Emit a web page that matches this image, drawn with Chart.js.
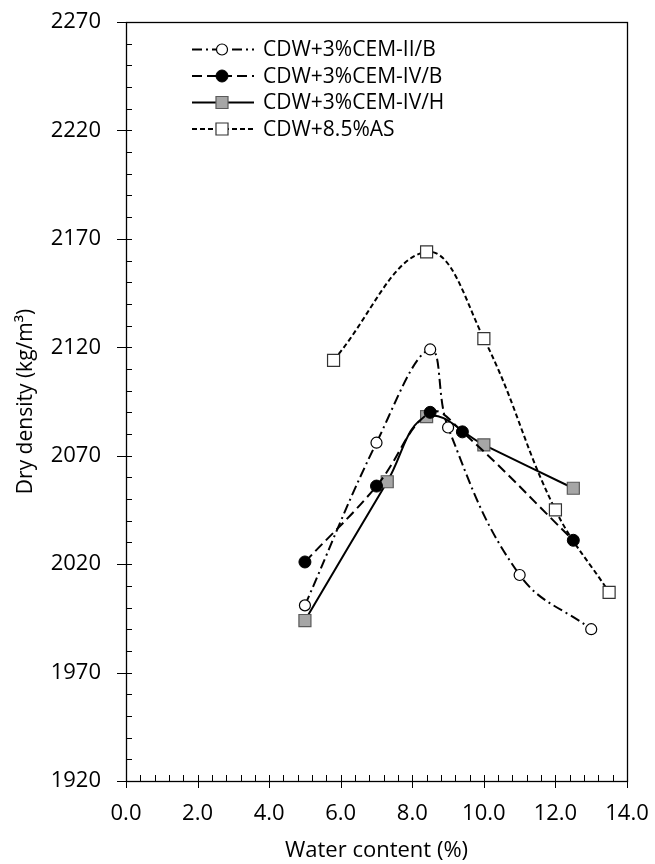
<!DOCTYPE html>
<html>
<head>
<meta charset="utf-8">
<script src="https://cdn.jsdelivr.net/npm/chart.js@4.4.1/dist/chart.umd.min.js"></script>
<style>
    html, body { margin: 0; padding: 0; background: #fff; }
    #wrap { width: 655px; height: 864px; }
</style>
</head>
<body>
<div id="wrap"><canvas id="density-chart" width="655" height="864"></canvas></div>
<script>
// Series names (legend order)
const seriesNames = ['CDW+3%CEM-II/B', 'CDW+3%CEM-IV/B', 'CDW+3%CEM-IV/H', 'CDW+8.5%AS'];

// Water content (%) and dry density (kg/m3)
const cemIIBWater = [5.0, 7.0, 8.5, 9.0, 11.0, 13.0];
const cemIIBDensity = [2001, 2076, 2119, 2083, 2015, 1990];

const cemIVBWater = [5.0, 7.0, 8.5, 9.4, 12.5];
const cemIVBDensity = [2021, 2056, 2090, 2081, 2031];

const cemIVHWater = [5.0, 7.3, 8.4, 10.0, 12.5];
const cemIVHDensity = [1994, 2058, 2088, 2075, 2055];

const asWater = [5.8, 8.4, 10.0, 12.0, 13.5];
const asDensity = [2114, 2164, 2124, 2045, 2007];

// Axis ticks
const xTicks = [0, 2, 4, 6, 8, 10, 12, 14];
const yTicks = [1920, 1970, 2020, 2070, 2120, 2170, 2220, 2270];
const xMinorStep = 0.4;
const yMinorStep = 10;

const FONT = "'Open Sans', 'DejaVu Sans', sans-serif";

function toPoints(xs, ys) {
    return xs.map((x, i) => ({ x: x, y: ys[i] }));
}

const datasets = [
    {
        label: seriesNames[0],
        data: toPoints(cemIIBWater, cemIIBDensity),
        borderDash: [10, 4, 2, 4],
        pointStyle: 'circle',
        pointRadius: 5.5,
        pointBackgroundColor: '#fff',
        pointBorderColor: '#000',
        pointBorderWidth: 1.2
    },
    {
        label: seriesNames[1],
        data: toPoints(cemIVBWater, cemIVBDensity),
        borderDash: [10, 5],
        pointStyle: 'circle',
        pointRadius: 6,
        pointBackgroundColor: '#000',
        pointBorderColor: '#000',
        pointBorderWidth: 1
    },
    {
        label: seriesNames[2],
        data: toPoints(cemIVHWater, cemIVHDensity),
        borderDash: [],
        pointStyle: 'rect',
        pointRadius: 8.5,
        pointBackgroundColor: '#a6a6a6',
        pointBorderColor: '#5a5a5a',
        pointBorderWidth: 1.2
    },
    {
        label: seriesNames[3],
        data: toPoints(asWater, asDensity),
        borderDash: [5, 3],
        pointStyle: 'rect',
        pointRadius: 8.5,
        pointBackgroundColor: '#fff',
        pointBorderColor: '#333',
        pointBorderWidth: 1.2
    }
];
datasets.forEach(ds => {
    ds.showLine = true;
    ds.tension = 0.4;
    ds.fill = false;
    ds.borderColor = '#000';
    ds.borderWidth = 2;
});

// Box around the plot, Excel style tick marks and the legend inside the plot
const framePlugin = {
    id: 'framePlugin',
    afterDraw(chart) {
        const { ctx, chartArea: a, scales } = chart;
        const xs = scales.x, ys = scales.y;
        ctx.save();
        ctx.strokeStyle = '#000';
        ctx.lineWidth = 1.3;
        ctx.setLineDash([]);
        ctx.strokeRect(Math.round(a.left) + 0.5, Math.round(a.top) + 0.5,
            Math.round(a.right - a.left), Math.round(a.bottom - a.top));

        ctx.lineWidth = 1;
        ctx.beginPath();
        // y ticks: majors cross the axis, minors point inward
        const yCount = Math.round((yTicks[yTicks.length - 1] - yTicks[0]) / yMinorStep);
        for (let i = 0; i <= yCount; i++) {
            const v = yTicks[0] + i * yMinorStep;
            const py = Math.round(ys.getPixelForValue(v)) + 0.5;
            const major = yTicks.includes(v);
            ctx.moveTo(a.left - (major ? 9 : 0), py);
            ctx.lineTo(a.left + 6, py);
        }
        // x ticks
        const xCount = Math.round((xTicks[xTicks.length - 1] - xTicks[0]) / xMinorStep);
        for (let i = 0; i <= xCount; i++) {
            const v = xTicks[0] + i * xMinorStep;
            const px = Math.round(xs.getPixelForValue(v)) + 0.5;
            ctx.moveTo(px, a.bottom);
            ctx.lineTo(px, a.bottom - 6);
        }
        for (let i = 0; i < xTicks.length; i++) {
            const px = Math.round(xs.getPixelForValue(xTicks[i])) + 0.5;
            ctx.moveTo(px, a.bottom + 7);
            ctx.lineTo(px, a.bottom - 6);
        }
        ctx.stroke();

        // legend
        const lx = a.left + 66;
        chart.data.datasets.forEach((ds, i) => {
            const ly = a.top + 27.5 + i * 26.5;
            ctx.strokeStyle = ds.borderColor;
            ctx.lineWidth = ds.borderWidth;
            ctx.setLineDash(ds.borderDash);
            ctx.beginPath();
            ctx.moveTo(lx, ly);
            ctx.lineTo(lx + 62, ly);
            ctx.stroke();
            ctx.setLineDash([]);
            ctx.fillStyle = ds.pointBackgroundColor;
            ctx.strokeStyle = ds.pointBorderColor;
            ctx.lineWidth = ds.pointBorderWidth;
            Chart.helpers.drawPoint(ctx, {
                pointStyle: ds.pointStyle,
                rotation: 0,
                radius: ds.pointRadius,
                borderWidth: ds.pointBorderWidth
            }, lx + 30, ly);
            ctx.fillStyle = '#000';
            ctx.font = '21px ' + FONT;
            ctx.textBaseline = 'middle';
            ctx.textAlign = 'left';
            ctx.fillText(ds.label, lx + 71, ly + 1);
        });
        ctx.restore();
    }
};

// keep the plot box where it is in the figure, whatever the label overhang
function fixX(scale) {
    scale.height = 83;
    scale.paddingLeft = 0;
    scale.paddingRight = 0;
}
function fixY(scale) {
    scale.width = 126;
    scale.paddingTop = 0;
    scale.paddingBottom = 0;
}

const ctx = document.getElementById('density-chart');
new Chart(ctx, {
    type: 'scatter',
    data: { datasets: datasets },
    options: {
        responsive: false,
        animation: false,
        devicePixelRatio: 1,
        layout: { padding: { top: 22, right: 28, left: 0, bottom: 0 } },
        plugins: {
            legend: { display: false },
            tooltip: { enabled: false }
        },
        scales: {
            x: {
                type: 'linear',
                min: xTicks[0],
                max: xTicks[xTicks.length - 1],
                grid: { display: false, drawTicks: false },
                border: { display: false },
                afterFit: fixX,
                afterBuildTicks: scale => { scale.ticks = xTicks.map(v => ({ value: v })); },
                ticks: {
                    padding: 20,
                    color: '#000',
                    font: { family: FONT, size: 22 },
                    callback: v => Number(v).toFixed(1)
                },
                title: {
                    display: true,
                    text: 'Water content (%)',
                    color: '#000',
                    font: { family: FONT, size: 22 },
                    padding: { top: 0, bottom: 0 }
                }
            },
            y: {
                type: 'linear',
                min: yTicks[0],
                max: yTicks[yTicks.length - 1],
                grid: { display: false, drawTicks: false },
                border: { display: false },
                afterFit: fixY,
                afterBuildTicks: scale => { scale.ticks = yTicks.map(v => ({ value: v })); },
                ticks: {
                    padding: 25,
                    color: '#000',
                    font: { family: FONT, size: 22 },
                    callback: v => String(v)
                },
                title: {
                    display: true,
                    text: 'Dry density (kg/m³)',
                    color: '#000',
                    font: { family: FONT, size: 21 },
                    padding: { top: 13, bottom: 0 }
                }
            }
        }
    },
    plugins: [framePlugin]
});
</script>
</body>
</html>
